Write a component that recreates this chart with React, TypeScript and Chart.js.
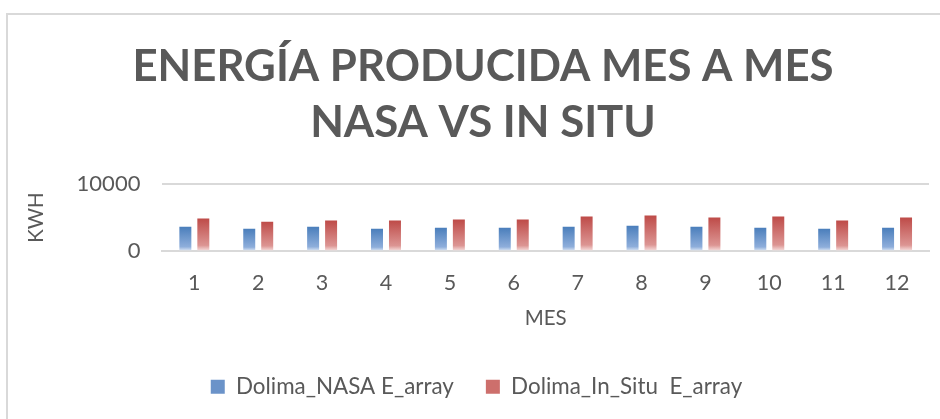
import React, { useEffect, useRef } from "react";
import { Chart, registerables } from "chart.js";

Chart.register(...registerables);

const months = ["1", "2", "3", "4", "5", "6", "7", "8", "9", "10", "11", "12"];
const nasaValues = [3640, 3330, 3640, 3330, 3490, 3490, 3640, 3790, 3640, 3490, 3330, 3490];
const inSituValues = [4850, 4390, 4550, 4550, 4700, 4700, 5150, 5300, 5000, 5150, 4550, 5000];
const yTicks = [0, 10000];
const titleLines = ["ENERGÍA PRODUCIDA MES A MES", "NASA VS IN SITU"];

const FONT = "Lato, 'Open Sans', sans-serif";
const TEXT = "#595959";
const TITLE_SIZE = 43.75;
const TITLE_LINE = 56;

function barGradient(ctx: any, top: string, mid: string, bottom: string) {
  const chart = ctx.chart;
  const area = chart.chartArea;
  if (!area || !chart.scales || !chart.scales.y) return top;
  const v = ctx.parsed ? ctx.parsed.y : ctx.raw;
  if (v == null) return top;
  const y0 = chart.scales.y.getPixelForValue(v);
  const y1 = chart.scales.y.getPixelForValue(0);
  if (!isFinite(y0) || !isFinite(y1) || y1 - y0 < 1) return top;
  const g = chart.ctx.createLinearGradient(0, y0, 0, y1);
  g.addColorStop(0, top);
  g.addColorStop(0.82, mid);
  g.addColorStop(1, bottom);
  return g;
}

const frameTitle = {
  id: "frameTitle",
  afterDraw(chart: any) {
    const c = chart.ctx;
    c.save();
    c.font = `bold ${TITLE_SIZE}px ${FONT}`;
    c.fillStyle = TEXT;
    c.textAlign = "center";
    c.textBaseline = "middle";
    const cx = (7 + chart.width + 19) / 2;
    titleLines.forEach((t, i) => c.fillText(t, cx, 67 + i * TITLE_LINE));
    c.restore();
  },
};

export default function App() {
  const ref = useRef<HTMLCanvasElement | null>(null);

  useEffect(() => {
    if (!ref.current) return;
    const chart = new Chart(ref.current, {
      type: "bar",
      plugins: [frameTitle],
      data: {
        labels: months,
        datasets: [
          {
            label: "Dolima_NASA E_array",
            data: nasaValues,
            backgroundColor: (c: any) => barGradient(c, "#4a7ebb", "#8eaedb", "#e4ecf7"),
            borderWidth: 0,
            categoryPercentage: 0.5625,
            barPercentage: 0.667,
          },
          {
            label: "Dolima_In_Situ  E_array",
            data: inSituValues,
            backgroundColor: (c: any) => barGradient(c, "#be4b48", "#dc9593", "#f8e4e3"),
            borderWidth: 0,
            categoryPercentage: 0.5625,
            barPercentage: 0.667,
          },
        ],
      },
      options: {
        animation: false,
        responsive: false,
        maintainAspectRatio: false,
        layout: { padding: { left: 24, right: 11, top: 184, bottom: 11 } },
        plugins: {
          title: { display: false },
          legend: {
            position: "bottom",
            labels: {
              color: TEXT,
              font: { family: FONT, size: 22.4 },
              boxWidth: 14,
              boxHeight: 14,
              padding: 32,
              generateLabels: (ch: any) =>
                ch.data.datasets.map((d: any, i: number) => ({
                  text: d.label,
                  fillStyle: i === 0 ? "#6b93c9" : "#cd6f6c",
                  strokeStyle: "transparent",
                  lineWidth: 0,
                  fontColor: TEXT,
                  datasetIndex: i,
                  hidden: false,
                })),
            },
          },
          tooltip: { enabled: false },
        },
        scales: {
          x: {
            grid: { display: false, drawTicks: false },
            border: { display: true, color: "#d9d9d9", width: 2 },
            ticks: { color: TEXT, font: { family: FONT, size: 21.5 }, padding: 19 },
            title: {
              display: true,
              text: "MES",
              color: TEXT,
              font: { family: FONT, size: 20.5 },
              padding: { top: -9, bottom: 13 },
            },
          },
          y: {
            min: 0,
            max: 10000,
            afterBuildTicks: (axis: any) => {
              axis.ticks = yTicks.map((v) => ({ value: v }));
            },
            grid: { color: "#d9d9d9", lineWidth: 2, drawTicks: false },
            border: { display: false },
            ticks: {
              color: TEXT,
              font: { family: FONT, size: 22 },
              padding: 22,
              callback: (v: any) => String(v),
            },
            title: {
              display: true,
              text: "KWH",
              color: TEXT,
              font: { family: FONT, size: 20.5 },
              padding: { top: 0, bottom: 6 },
            },
          },
        },
      },
    });
    return () => chart.destroy();
  }, []);

  return (
    <div style={{ position: "fixed", left: 0, top: 0, width: 940, height: 419, background: "#fff", overflow: "hidden" }}>
      <div
        style={{
          position: "absolute",
          left: 6,
          top: 13,
          width: 1000,
          height: 500,
          borderLeft: "2px solid #d9d9d9",
          borderTop: "2px solid #d9d9d9",
        }}
      />
      <canvas ref={ref} width={940} height={419} style={{ position: "absolute", left: 0, top: 0 }} />
    </div>
  );
}
